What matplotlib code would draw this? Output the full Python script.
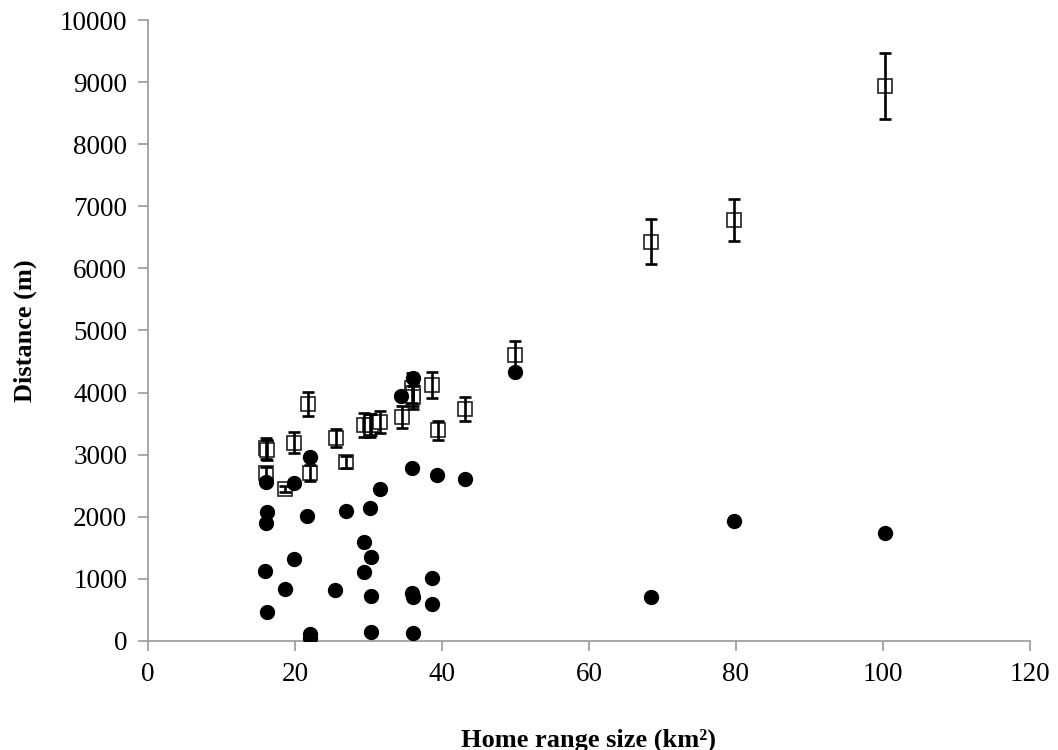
import matplotlib
matplotlib.use("Agg")
import matplotlib.pyplot as plt

plt.rcParams['font.family'] = ['Liberation Serif', 'DejaVu Serif']

# individual distances (filled circles)
pt_x = [16.1, 16.2, 16.1, 15.9, 16.2, 19.9, 19.9, 18.7, 22.1, 22.1, 22.1, 21.7,
        27.0, 25.5, 30.2, 29.4, 29.4, 30.4, 30.4, 30.4, 31.5, 34.4, 36.05, 35.9,
        35.9, 36.05, 36.1, 38.6, 38.6, 39.3, 43.1, 49.9, 68.5, 79.7, 100.3]
pt_y = [2565, 2080, 1900, 1120, 465, 2550, 1320, 830, 2955, 110, 45, 2015,
        2095, 815, 2145, 1585, 1100, 1345, 725, 135, 2445, 3945, 4230, 2780,
        765, 700, 130, 1005, 585, 2675, 2605, 4330, 705, 1930, 1735]

# means with error bars (open squares)
mean_x = [16.0, 16.2, 16.1, 18.6, 19.9, 21.8, 22.1, 25.6, 27.0, 29.4, 30.2,
          30.4, 31.5, 34.5, 35.9, 36.05, 36.1, 38.6, 39.5, 43.1, 49.9, 68.5,
          79.7, 100.3]
mean_y = [3100, 3080, 2705, 2450, 3190, 3820, 2705, 3260, 2880, 3480, 3470,
          3480, 3525, 3600, 4070, 3990, 3920, 4120, 3390, 3735, 4610, 6430,
          6780, 8940]
mean_err = [165, 160, 90, 50, 170, 195, 135, 145, 90, 190, 180, 170, 170, 175,
            240, 200, 180, 215, 155, 190, 220, 360, 340, 535]

fig = plt.figure(figsize=(10.58, 7.5), dpi=100)
ax = fig.add_axes([0.1399, 0.1457, 0.8336, 0.8273])

ax.errorbar(mean_x, mean_y, yerr=mean_err, fmt='none', ecolor='black',
            elinewidth=1.9, capsize=4.3, capthick=1.9, zorder=3)
ax.plot(mean_x, mean_y, 's', ms=10, mfc='white', mec='#222222', mew=1.2,
        linestyle='none', zorder=2)
ax.plot(pt_x, pt_y, 'o', ms=10, color='black', linestyle='none', zorder=4)

ax.set_xlim(0, 120)
ax.set_ylim(0, 10000)
ax.set_xticks(range(0, 121, 20))
ax.set_yticks(range(0, 10001, 1000))

for s in ['top', 'right']:
    ax.spines[s].set_visible(False)
for s in ['left', 'bottom']:
    ax.spines[s].set_color('#a0a0a0')
    ax.spines[s].set_linewidth(1.3)
ax.tick_params(direction='out', length=7, width=1.3, color='#a0a0a0',
               labelsize=19.5, labelcolor='black', pad=8)

ax.set_xlabel('Home range size (km²)', fontsize=19, fontweight='bold', labelpad=30)
ax.set_ylabel('Distance (m)', fontsize=19, fontweight='bold', labelpad=16)

fig.savefig('out.png', dpi=100)
